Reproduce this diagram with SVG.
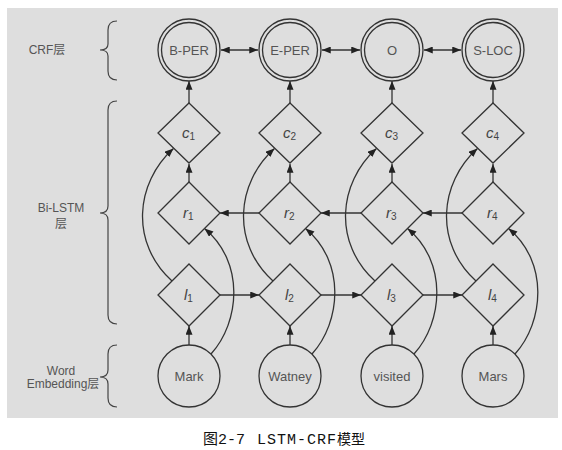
<svg xmlns="http://www.w3.org/2000/svg" width="562" height="450" viewBox="0 0 562 450">
<defs>
<marker id="ah" viewBox="0 0 10 8" refX="10" refY="4" markerWidth="9" markerHeight="7" markerUnits="userSpaceOnUse" orient="auto-start-reverse">
<path d="M0,0 L10,4 L0,8 z" fill="#222"/>
</marker>
<style>
.ln{fill:none;stroke:#333;stroke-width:1.3}
.ar{fill:none;stroke:#333;stroke-width:1.3;marker-end:url(#ah)}
.da{fill:none;stroke:#333;stroke-width:1.3;marker-end:url(#ah);marker-start:url(#ah)}
.nd{fill:none;stroke:#333;stroke-width:1.3}
.lb{font-family:"Liberation Sans",Arial,sans-serif;font-size:13px;fill:#555;text-anchor:middle}
.sl{font-family:"Liberation Sans","Noto Sans CJK SC",sans-serif;font-size:12px;fill:#555;text-anchor:middle}
.v{font-family:"Liberation Sans",Arial,sans-serif;font-size:15px;font-style:italic;fill:#444}
.s{font-size:10px;font-style:normal}
.br{fill:none;stroke:#444;stroke-width:1.2}
</style>
</defs>
<rect x="7" y="8" width="551" height="410" fill="#dedede"/>
<g id="braces">
<path class="br" d="M117,21 Q108,21 108,30 L108,44 Q108,50 100,50 Q108,50 108,56 L108,71 Q108,80 117,80"/>
<path class="br" d="M117,101 Q108,101 108,110 L108,206 Q108,213 100,213 Q108,213 108,220 L108,315 Q108,324 117,324"/>
<path class="br" d="M117,345 Q108,345 108,354 L108,370 Q108,377 100,377 Q108,377 108,384 L108,398 Q108,407 117,407"/>
<text class="sl" x="47" y="54">CRF层</text>
<text class="sl" x="61" y="212">Bi-LSTM</text>
<text class="sl" x="61" y="228">层</text>
<text class="sl" x="61" y="375">Word</text>
<text class="sl" x="63" y="388">Embedding层</text>
</g>
<g id="connectors">
<path class="ar" d="M189,345 L189,326"/>
<path class="ar" d="M290,345 L290,326"/>
<path class="ar" d="M392,345 L392,326"/>
<path class="ar" d="M493,345 L493,326"/>
<path class="ar" d="M189,182 L189,164"/>
<path class="ar" d="M290,182 L290,164"/>
<path class="ar" d="M392,182 L392,164"/>
<path class="ar" d="M493,182 L493,164"/>
<path class="ar" d="M189,103 L189,81"/>
<path class="ar" d="M290,103 L290,81"/>
<path class="ar" d="M392,103 L392,81"/>
<path class="ar" d="M493,103 L493,81"/>
<path class="ar" d="M220,295 L259,295"/>
<path class="ar" d="M321,295 L361,295"/>
<path class="ar" d="M423,295 L462,295"/>
<path class="ar" d="M259,213 L220,213"/>
<path class="ar" d="M361,213 L321,213"/>
<path class="ar" d="M462,213 L423,213"/>
<path class="da" d="M221,50 L258,50"/>
<path class="da" d="M322,50 L360,50"/>
<path class="da" d="M424,50 L461,50"/>
<path class="ar" d="M172,281 C130,243 135,183 173.5,148.5"/>
<path class="ar" d="M273,281 C231,243 236,183 274.5,148.5"/>
<path class="ar" d="M375,281 C333,243 338,183 376.5,148.5"/>
<path class="ar" d="M476,281 C434,243 439,183 477.5,148.5"/>
<path class="ar" d="M211,354 C240,322 245,262 204.5,228.5"/>
<path class="ar" d="M312,354 C341,322 346,262 305.5,228.5"/>
<path class="ar" d="M414,354 C443,322 448,262 407.5,228.5"/>
<path class="ar" d="M515,354 C544,322 549,262 508.5,228.5"/>
</g>
<g id="crf-bper"><circle class="nd" cx="189" cy="50" r="31"/><circle class="nd" cx="189" cy="50" r="27.5"/><text class="lb" x="189" y="55">B-PER</text></g>
<g id="crf-eper"><circle class="nd" cx="290" cy="50" r="31"/><circle class="nd" cx="290" cy="50" r="27.5"/><text class="lb" x="290" y="55">E-PER</text></g>
<g id="crf-o"><circle class="nd" cx="392" cy="50" r="31"/><circle class="nd" cx="392" cy="50" r="27.5"/><text class="lb" x="392" y="55">O</text></g>
<g id="crf-sloc"><circle class="nd" cx="493" cy="50" r="31"/><circle class="nd" cx="493" cy="50" r="27.5"/><text class="lb" x="493" y="55">S-LOC</text></g>
<g id="c1"><path class="nd" d="M189,103 L220,133 L189,163 L158,133 z"/><text class="v" x="182" y="138">c<tspan class="s" dy="2">1</tspan></text></g>
<g id="c2"><path class="nd" d="M290,103 L321,133 L290,163 L259,133 z"/><text class="v" x="283" y="138">c<tspan class="s" dy="2">2</tspan></text></g>
<g id="c3"><path class="nd" d="M392,103 L423,133 L392,163 L361,133 z"/><text class="v" x="385" y="138">c<tspan class="s" dy="2">3</tspan></text></g>
<g id="c4"><path class="nd" d="M493,103 L524,133 L493,163 L462,133 z"/><text class="v" x="486" y="138">c<tspan class="s" dy="2">4</tspan></text></g>
<g id="r1"><path class="nd" d="M189,182 L220,213 L189,244 L158,213 z"/><text class="v" x="183" y="218">r<tspan class="s" dy="2">1</tspan></text></g>
<g id="r2"><path class="nd" d="M290,182 L321,213 L290,244 L259,213 z"/><text class="v" x="284" y="218">r<tspan class="s" dy="2">2</tspan></text></g>
<g id="r3"><path class="nd" d="M392,182 L423,213 L392,244 L361,213 z"/><text class="v" x="386" y="218">r<tspan class="s" dy="2">3</tspan></text></g>
<g id="r4"><path class="nd" d="M493,182 L524,213 L493,244 L462,213 z"/><text class="v" x="487" y="218">r<tspan class="s" dy="2">4</tspan></text></g>
<g id="l1"><path class="nd" d="M189,264 L220,295 L189,326 L158,295 z"/><text class="v" x="184" y="300">l<tspan class="s" dy="2">1</tspan></text></g>
<g id="l2"><path class="nd" d="M290,264 L321,295 L290,326 L259,295 z"/><text class="v" x="285" y="300">l<tspan class="s" dy="2">2</tspan></text></g>
<g id="l3"><path class="nd" d="M392,264 L423,295 L392,326 L361,295 z"/><text class="v" x="387" y="300">l<tspan class="s" dy="2">3</tspan></text></g>
<g id="l4"><path class="nd" d="M493,264 L524,295 L493,326 L462,295 z"/><text class="v" x="488" y="300">l<tspan class="s" dy="2">4</tspan></text></g>
<g id="w1"><circle class="nd" cx="189" cy="376" r="31"/><text class="lb" x="189" y="381">Mark</text></g>
<g id="w2"><circle class="nd" cx="290" cy="376" r="31"/><text class="lb" x="290" y="381">Watney</text></g>
<g id="w3"><circle class="nd" cx="392" cy="376" r="31"/><text class="lb" x="392" y="381">visited</text></g>
<g id="w4"><circle class="nd" cx="493" cy="376" r="31"/><text class="lb" x="493" y="381">Mars</text></g>
<g id="caption">
<text x="203" y="444" font-family="'Noto Sans CJK SC',sans-serif" font-size="15" fill="#111">图</text>
<text x="218" y="444" font-family="'Liberation Mono',monospace" font-size="15" fill="#111">2-7</text>
<text x="257" y="444" font-family="'Liberation Mono',monospace" font-size="15" letter-spacing="1" fill="#111">LSTM-CRF</text>
<text x="337" y="444" font-family="'Noto Sans CJK SC',sans-serif" font-size="14" fill="#111">模型</text>
</g>
</svg>
